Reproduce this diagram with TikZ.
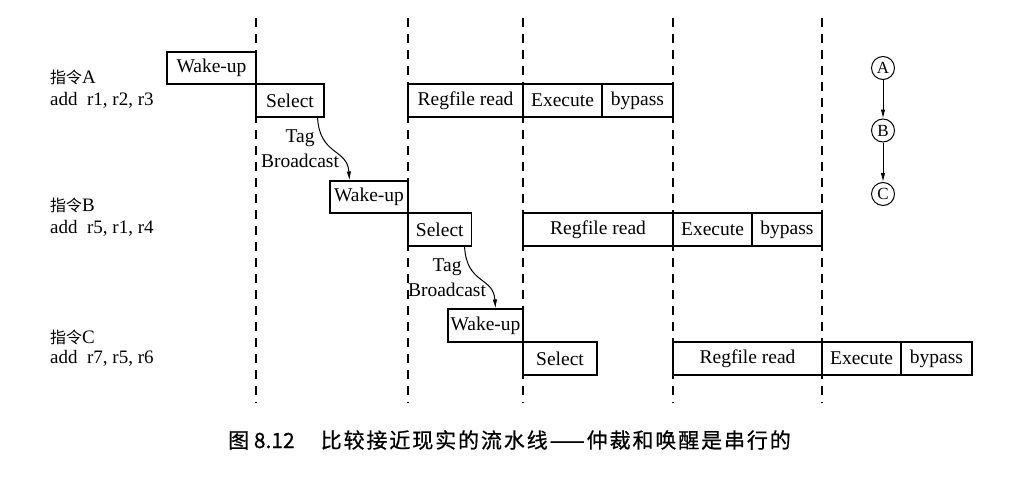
\documentclass[tikz,border=0pt]{standalone}
\usepackage{fontspec}
\setmainfont{Liberation Serif}
\newfontfamily\cjk{Noto Sans CJK SC}
\usetikzlibrary{arrows.meta}
\begin{document}
\begin{tikzpicture}[x=1pt,y=-1pt,
  stage/.style={draw, line width=1.1pt, minimum height=33pt, inner sep=0pt, font=\fontsize{19.5}{22}\selectfont},
  dashline/.style={line width=1.1pt, dash pattern=on 9pt off 7pt},
  lbl/.style={inner sep=0pt, font=\fontsize{19.5}{22}\selectfont},
  instr/.style={inner sep=0pt, anchor=base west, font=\fontsize{19}{22}\selectfont},
  circ/.style={draw, circle, line width=1pt, minimum size=23pt, inner sep=0pt, font=\fontsize{17}{18}\selectfont},
  bcast/.style={line width=1pt, -{Latex[length=9pt,width=4.5pt]}},
  arr/.style={line width=1pt, -{Latex[length=9pt,width=4.5pt]}}
]
\useasboundingbox (0,0) rectangle (1024,487);
\fill[white] (0,0) rectangle (1024,487);

% dashed cycle boundaries
\foreach \x in {256,408,523,673,822}
  \draw[dashline] (\x,18) -- (\x,403);

% row A
\node[stage, minimum width=89pt, minimum height=32pt] (awake) at (211.5,68) {Wake-up};
\node[stage, minimum width=68pt] (asel) at (290,100.5) {Select};
\node[stage, minimum width=115pt] (areg) at (465.5,100.5) {Regfile read};
\node[stage, minimum width=79pt] (aexe) at (562.5,100.5) {Execute};
\node[stage, minimum width=71pt] (abyp) at (637.5,100.5) {bypass};

% row B
\node[stage, minimum width=78pt, minimum height=32pt] (bwake) at (369,197) {Wake-up};
\node[stage, minimum width=63.5pt] (bsel) at (439.75,229.5) {Select};
\node[stage, minimum width=150pt] (breg) at (598,229.5) {Regfile read};
\node[stage, minimum width=79pt] (bexe) at (712.5,229.5) {Execute};
\node[stage, minimum width=70pt] (bbyp) at (787,229.5) {bypass};

% row C
\node[stage, minimum width=75pt] (cwake) at (485.5,325.5) {Wake-up};
\node[stage, minimum width=74pt] (csel) at (560,358.5) {Select};
\node[stage, minimum width=149pt] (creg) at (747.5,358.5) {Regfile read};
\node[stage, minimum width=79pt] (cexe) at (861.5,358.5) {Execute};
\node[stage, minimum width=71pt] (cbyp) at (936.5,358.5) {bypass};

% tag broadcast
\node[lbl] (tag1) at (300,138) {Tag};
\node[lbl] (bc1) at (300,161) {Broadcast};
\node[lbl] (tag2) at (447,267) {Tag};
\node[lbl] (bc2) at (447,290) {Broadcast};
\draw[bcast] ([xshift=-7pt]asel.south east) .. controls +(2,38) and +(-2,-32) .. ([xshift=20pt]bwake.north west);
\draw[bcast] ([xshift=-7.5pt]bsel.south east) .. controls +(2,38) and +(-2,-32) .. ([xshift=48pt]cwake.north west);

% instruction labels
\node[instr] (ia) at (50,83) {{\cjk\fontsize{16}{18}\selectfont 指令}A};
\node[instr] (ia2) at (50,105) {add\ \ r1, r2, r3};
\node[instr] (ib) at (50,211) {{\cjk\fontsize{16}{18}\selectfont 指令}B};
\node[instr] (ib2) at (50,233) {add\ \ r5, r1, r4};
\node[instr] (ic) at (50,343) {{\cjk\fontsize{16}{18}\selectfont 指令}C};
\node[instr] (ic2) at (50,363) {add\ \ r7, r5, r6};

% dependency graph
\node[circ] (ca) at (883,68) {A};
\node[circ] (cb) at (883,130.5) {B};
\node[circ] (cc) at (883,194) {C};
\draw[arr] (ca) -- (cb);
\draw[arr] (cb) -- (cc);

% caption
\node[anchor=west, inner sep=0pt, font=\cjk\fontsize{21}{24}\selectfont\addfontfeature{FakeBold=0.6}] (cap) at (228,440)
  {图 8.12\hspace{26pt}{\addfontfeature{LetterSpace=9}比较接近现实的流水线——仲裁和唤醒是串行的}};
\end{tikzpicture}
\end{document}
